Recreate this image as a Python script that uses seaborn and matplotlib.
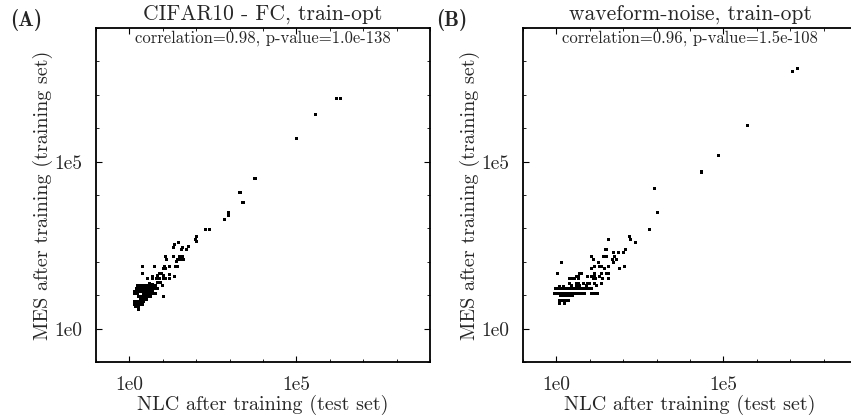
import numpy as np
import pandas as pd
import matplotlib
matplotlib.use("Agg")
import matplotlib.pyplot as plt
import matplotlib.ticker as mticker
import seaborn as sns

# ---- data (log10 values) ----
cifar_nlc_log10 = [6.31, 6.19, 5.57, 5.00, 3.76, 3.31, 3.40, 2.96, 2.96, 2.84, 2.27, 2.39,
                   2.00, 1.97, 2.02, 1.47, 1.35, 1.32, 1.76, 1.70, 1.60, 1.56, 1.08, 1.11,
                   1.32, 1.50, 1.58, 1.52, 1.61, 1.45, 1.40, 1.39, 1.44, 0.40, 0.75, 1.05,
                   1.20, 1.08, 1.02, 0.40, 0.68, 0.68, 0.53, 0.90, 0.97, 0.84, 1.01, 1.20,
                   1.35, 0.82, 0.90, 1.02, 1.09, 1.20, 0.85, 0.94, 0.99, 0.60, 0.68, 1.02,
                   0.24, 0.33, 0.42, 0.51, 0.60, 0.68, 0.77,
                   0.21, 0.30, 0.39, 0.48, 0.57, 0.65, 0.74, 0.83,
                   0.15, 0.24, 0.33, 0.42, 0.51, 0.60, 0.68,
                   0.15, 0.24, 0.42, 0.51, 0.60, 0.68, 0.77,
                   0.27, 0.36, 0.45, 0.54, 0.63,
                   0.33, 0.42, 0.51,
                   0.15, 0.24, 0.33, 0.42,
                   0.15, 0.24, 0.33, 0.39,
                   0.18, 0.27, 0.28]
cifar_mes_log10 = [6.90, 6.90, 6.40, 5.68, 4.49, 4.07, 3.77, 3.47, 3.39, 3.26, 2.97, 2.97,
                   2.76, 2.68, 2.60, 2.58, 2.52, 2.44, 2.46, 2.38, 2.42, 2.37, 2.16, 2.08,
                   2.16, 2.16, 2.16, 2.08, 2.08, 2.08, 2.00, 1.87, 1.87, 1.87, 1.87, 1.87,
                   1.87, 1.79, 1.79, 1.66, 1.56, 1.49, 1.49, 1.66, 1.66, 1.59, 1.59, 1.63,
                   1.56, 1.49, 1.49, 1.49, 1.49, 1.49, 1.39, 1.39, 1.28, 1.36, 1.31, 0.97,
                   1.28, 1.28, 1.28, 1.28, 1.28, 1.28, 1.28,
                   1.19, 1.19, 1.19, 1.19, 1.19, 1.19, 1.19, 1.19,
                   1.10, 1.10, 1.10, 1.10, 1.10, 1.10, 1.10,
                   1.04, 1.04, 1.04, 1.04, 1.04, 1.04, 1.04,
                   0.95, 0.95, 0.95, 0.95, 0.95,
                   0.86, 0.86, 0.86,
                   0.80, 0.80, 0.80, 0.80,
                   0.71, 0.71, 0.71, 0.71,
                   0.65, 0.65, 0.56]

wave_nlc_log10 = [7.21, 7.06, 5.72, 4.85, 4.35, 2.94, 3.03, 2.79, 1.57, 2.20, 2.23, 2.38,
                  1.47, 1.51, 2.08, 2.02, 1.86, 1.72, 1.06, 1.12, 1.42, 1.50, 1.75, 1.67,
                  1.81, 1.27, 1.72, 0.14, 1.14, 1.28, 1.36, 1.57, 2.05, 1.06, 1.45, 1.90,
                  0.02, 0.70, 0.76, 1.14, 1.36, 1.50, 1.57,
                  0.60, 0.67, 0.94, 1.06, 1.14, 1.28,
                  0.40, 0.47, 0.55, 0.67, 1.10, 1.16, 1.37, 1.57,
                  0.40, 0.60, 0.67, 0.82, 0.94, 1.00, 1.15, 1.36,
                  0.45, 0.60, 0.70, 0.90, 1.21, 0.10, 0.20,
                  -0.02, 0.07, 0.16, 0.25, 0.34, 0.43, 0.52, 0.61, 0.70, 0.79, 0.88, 0.97, 1.06,
                  -0.07, 0.02, 0.11, 0.20, 0.29, 0.38, 0.47, 0.56, 0.65, 0.74, 0.83, 1.05, 1.14, 1.23,
                  0.13, 0.22, 0.31, 0.40, 0.49,
                  0.10, 0.19, 0.28, 0.37,
                  0.10, 0.23]
wave_mes_log10 = [7.79, 7.70, 6.09, 5.17, 4.69, 4.19, 3.47, 2.97, 2.67, 2.75, 2.67, 2.58,
                  2.37, 2.37, 2.37, 2.28, 2.28, 2.28, 2.16, 2.08, 2.16, 2.16, 2.16, 2.08,
                  2.08, 1.99, 1.99, 1.99, 1.87, 1.87, 1.87, 1.87, 1.87, 1.79, 1.79, 1.79,
                  1.66, 1.66, 1.66, 1.66, 1.66, 1.66, 1.66,
                  1.56, 1.56, 1.56, 1.56, 1.56, 1.56,
                  1.49, 1.49, 1.49, 1.49, 1.49, 1.49, 1.49, 1.49,
                  1.36, 1.36, 1.36, 1.36, 1.36, 1.36, 1.36, 1.36,
                  1.28, 1.28, 1.28, 1.28, 1.28, 1.26, 1.26,
                  1.19, 1.19, 1.19, 1.19, 1.19, 1.19, 1.19, 1.19, 1.19, 1.19, 1.19, 1.19, 1.19,
                  1.06, 1.06, 1.06, 1.06, 1.06, 1.06, 1.06, 1.06, 1.06, 1.06, 1.06, 1.06, 1.06, 1.06,
                  0.99, 0.99, 0.99, 0.99, 0.99,
                  0.85, 0.85, 0.85, 0.85,
                  0.76, 0.76]

panel_letters = ["(A)", "(B)"]
titles = ["CIFAR10 - FC, train-opt", "waveform-noise, train-opt"]
stats_texts = ["correlation=0.98, p-value=1.0e-138", "correlation=0.96, p-value=1.5e-108"]
xlabel = "NLC after training (test set)"
ylabel = "MES after training (training set)"
major_ticks = [1e0, 1e5]
major_tick_labels = ["1e0", "1e5"]

sns.set_style("ticks")
plt.rcParams["font.family"] = ["cmr10", "DejaVu Serif"]
plt.rcParams["axes.unicode_minus"] = False
plt.rcParams["axes.formatter.use_mathtext"] = True

fig = plt.figure(figsize=(8.51, 4.15), dpi=100)
W, H = 851, 415
ax_w, ax_h = 334, 334
positions = [(96, 28), (523, 28)]

datasets = [(cifar_nlc_log10, cifar_mes_log10), (wave_nlc_log10, wave_mes_log10)]

for i, ((xl, yl), (left, top)) in enumerate(zip(datasets, positions)):
    ax = fig.add_axes([left / W, (H - top - ax_h) / H, ax_w / W, ax_h / H])
    df = pd.DataFrame({"nlc": 10 ** np.array(xl), "mes": 10 ** np.array(yl)})
    sns.scatterplot(data=df, x="nlc", y="mes", ax=ax, marker="s", s=5,
                    color="black", linewidth=0, edgecolor="none", legend=False)
    ax.set_xscale("log")
    ax.set_yscale("log")
    ax.set_xlim(1e-1, 1e9)
    ax.set_ylim(1e-1, 1e9)
    for axis in (ax.xaxis, ax.yaxis):
        axis.set_major_locator(mticker.FixedLocator(major_ticks))
        axis.set_major_formatter(mticker.FixedFormatter(major_tick_labels))
        axis.set_minor_locator(mticker.LogLocator(base=10, subs=(1.0,), numticks=20))
        axis.set_minor_formatter(mticker.NullFormatter())
    ax.tick_params(which="both", direction="in", top=True, right=True, color="black")
    ax.tick_params(which="major", length=4.5, width=0.8, labelsize=14, pad=10)
    ax.tick_params(which="minor", length=2, width=0.6)
    for sp in ax.spines.values():
        sp.set_visible(True)
        sp.set_color("black")
        sp.set_linewidth(1.3)
    ax.set_xlabel(xlabel, fontsize=14.5, labelpad=1)
    ax.set_ylabel(ylabel, fontsize=14.5, labelpad=1)
    ax.set_title(titles[i], fontsize=15.5, pad=6)
    ax.text(0.5, 0.971, stats_texts[i], transform=ax.transAxes, ha="center",
            va="center", fontsize=12)
    lx = [26, 452][i]
    fig.text(lx / W, 1 - 20 / H, panel_letters[i], ha="center", va="center",
             fontsize=15, family=["cmb10", "DejaVu Serif"], fontweight="bold")

fig.savefig("out.png", dpi=100)
